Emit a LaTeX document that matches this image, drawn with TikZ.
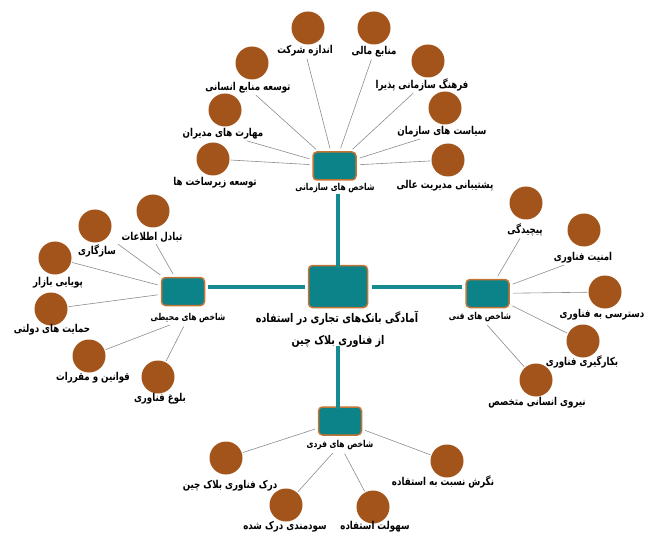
\documentclass[tikz,border=0pt]{standalone}
\usepackage{fontspec}
\newfontfamily\arabicfont[Script=Arabic]{DejaVu Sans}
\TeXXeTstate=1
\newcommand{\prs}[1]{\scalebox{1}[1.25]{\arabicfont\bfseries\beginR #1\endR}}
\definecolor{hubfill}{RGB}{11,131,137}
\definecolor{hubedge}{RGB}{196,116,52}
\definecolor{leafc}{RGB}{163,84,27}
\definecolor{trunkc}{RGB}{21,138,144}
\definecolor{linkc}{RGB}{140,140,140}
\tikzset{
  leaf/.style={circle, fill=leafc, minimum size=33bp, inner sep=0pt},
  hub/.style={draw=hubedge, line width=1.5bp, fill=hubfill, rounded corners=4bp, minimum width=43bp, minimum height=28bp, inner sep=0pt},
  bighub/.style={hub, minimum width=59bp, minimum height=42bp},
  lbl/.style={font=\fontsize{8.7}{10}\selectfont, inner sep=1bp},
  hublbl/.style={font=\fontsize{7.6}{9}\selectfont, inner sep=1bp},
  mainlbl/.style={font=\fontsize{9.6}{11}\selectfont, inner sep=1bp},
  link/.style={draw=linkc, line width=0.6bp, shorten >=3bp, shorten <=1bp},
  trunk/.style={draw=trunkc, line width=4bp}
}
\begin{document}
\begin{tikzpicture}[x=1bp, y=-1bp]
\useasboundingbox (0,0) rectangle (653,536);
% hubs
\node[bighub] (center) at (338,286.5) {};
\node[mainlbl] (cl1) at (337,318) {\prs{آمادگی بانک‌های تجاری در استفاده}};
\node[mainlbl] (cl2) at (338,341) {\prs{از فناوری بلاک چین}};
\node[hub] (org) at (334.5,166) {};
\node[hublbl] (orgL) at (335,188) {\prs{شاخص های سازمانی}};
\node[hub] (env) at (183,291.5) {};
\node[hublbl] (envL) at (188,318) {\prs{شاخص های محیطی}};
\node[hub] (tech) at (487.5,293.5) {};
\node[hublbl] (techL) at (480,317) {\prs{شاخص های فنی}};
\node[hub] (ind) at (340,421) {};
\node[hublbl] (indL) at (340,445) {\prs{شاخص های فردی}};
% trunks
\draw[trunk] (center.north |- orgL.south) -- ([yshift=-3bp]center.north);
\draw[trunk] ([xshift=3bp]env.east |- center.west) -- ([xshift=-3bp]center.west);
\draw[trunk] ([xshift=4bp]center.east) -- ([xshift=-3bp]tech.west |- center.east);
\draw[trunk] ([yshift=2bp]cl2.south) -- ([yshift=-3bp]cl2.south |- ind.north);
% organisational
\node[leaf] (o1) at (308,28) {};
\node[lbl] (o1L) at (305,51) {\prs{اندازه شرکت}};
\node[leaf] (o2) at (374,28) {};
\node[lbl] (o2L) at (374,52) {\prs{منابع مالی}};
\node[leaf] (o3) at (428,61) {};
\node[lbl] (o3L) at (422,85) {\prs{فرهنگ سازمانی پذیرا}};
\node[leaf] (o4) at (445,108) {};
\node[lbl] (o4L) at (442,132) {\prs{سیاست های سازمان}};
\node[leaf] (o5) at (448,160) {};
\node[lbl] (o5L) at (445,186) {\prs{پشتیبانی مدیریت عالی}};
\node[leaf] (o6) at (252,63) {};
\node[lbl] (o6L) at (248,88) {\prs{توسعه منابع انسانی}};
\node[leaf] (o7) at (225,110) {};
\node[lbl] (o7L) at (223,134) {\prs{مهارت های مدیران}};
\node[leaf] (o8) at (213,159) {};
\node[lbl] (o8L) at (215,183) {\prs{توسعه زیرساخت ها}};
\draw[link] (o1L) -- (org);
\draw[link] (o2L) -- (org);
\draw[link] (o3L) -- (org);
\draw[link] (o4L) -- (org);
\draw[link] (o5) -- (org);
\draw[link] (o6L) -- (org);
\draw[link] (o7L) -- (org);
\draw[link] (o8) -- (org);
% environmental
\node[leaf] (e1) at (153,211) {};
\node[lbl] (e1L) at (152,237) {\prs{تبادل اطلاعات}};
\node[leaf] (e2) at (95,226) {};
\node[lbl] (e2L) at (97,251) {\prs{سازگاری}};
\node[leaf] (e3) at (55,258) {};
\node[lbl] (e3L) at (58,283) {\prs{پویایی بازار}};
\node[leaf] (e4) at (51,309) {};
\node[lbl] (e4L) at (52,330) {\prs{حمایت های دولتی}};
\node[leaf] (e5) at (89,356) {};
\node[lbl] (e5L) at (93,378) {\prs{قوانین و مقررات}};
\node[leaf] (e6) at (158,377) {};
\node[lbl] (e6L) at (160,399) {\prs{بلوغ فناوری}};
\draw[link] (e1L) -- (env);
\draw[link] (e2L.north east) -- (env);
\draw[link] (e3) -- (env);
\draw[link] (e4) -- (env);
\draw[link] (e5) -- (envL);
\draw[link] (e6) -- (envL);
% technical
\node[leaf] (t1) at (526,203) {};
\node[lbl] (t1L) at (525,230) {\prs{پیچیدگی}};
\node[leaf] (t2) at (584,230) {};
\node[lbl] (t2L) at (583,258) {\prs{امنیت فناوری}};
\node[leaf] (t3) at (605,292) {};
\node[lbl] (t3L) at (602,315) {\prs{دسترسی به فناوری}};
\node[leaf] (t4) at (583,341) {};
\node[lbl] (t4L) at (582,362) {\prs{بکارگیری فناوری}};
\node[leaf] (t5) at (536,380) {};
\node[lbl] (t5L) at (537,403) {\prs{نیروی انسانی متخصص}};
\draw[link] (t1L) -- (tech);
\draw[link] (t2L) -- (tech);
\draw[link] (t3) -- (tech);
\draw[link] (t4) -- (tech);
\draw[link] (t5) -- (techL);
% individual
\node[leaf] (i1) at (226,458) {};
\node[lbl] (i1L) at (230,486) {\prs{درک فناوری بلاک چین}};
\node[leaf] (i2) at (286,505) {};
\node[lbl] (i2L) at (285,527) {\prs{سودمندی درک شده}};
\node[leaf] (i3) at (373,507) {};
\node[lbl] (i3L) at (375,527) {\prs{سهولت استفاده}};
\node[leaf] (i4) at (447,461) {};
\node[lbl] (i4L) at (443,482) {\prs{نگرش نسبت به استفاده}};
\draw[link] (i1) -- (ind);
\draw[link] (i2) -- (indL);
\draw[link] (i3) -- (indL);
\draw[link] (i4) -- (ind);
\end{tikzpicture}
\end{document}
